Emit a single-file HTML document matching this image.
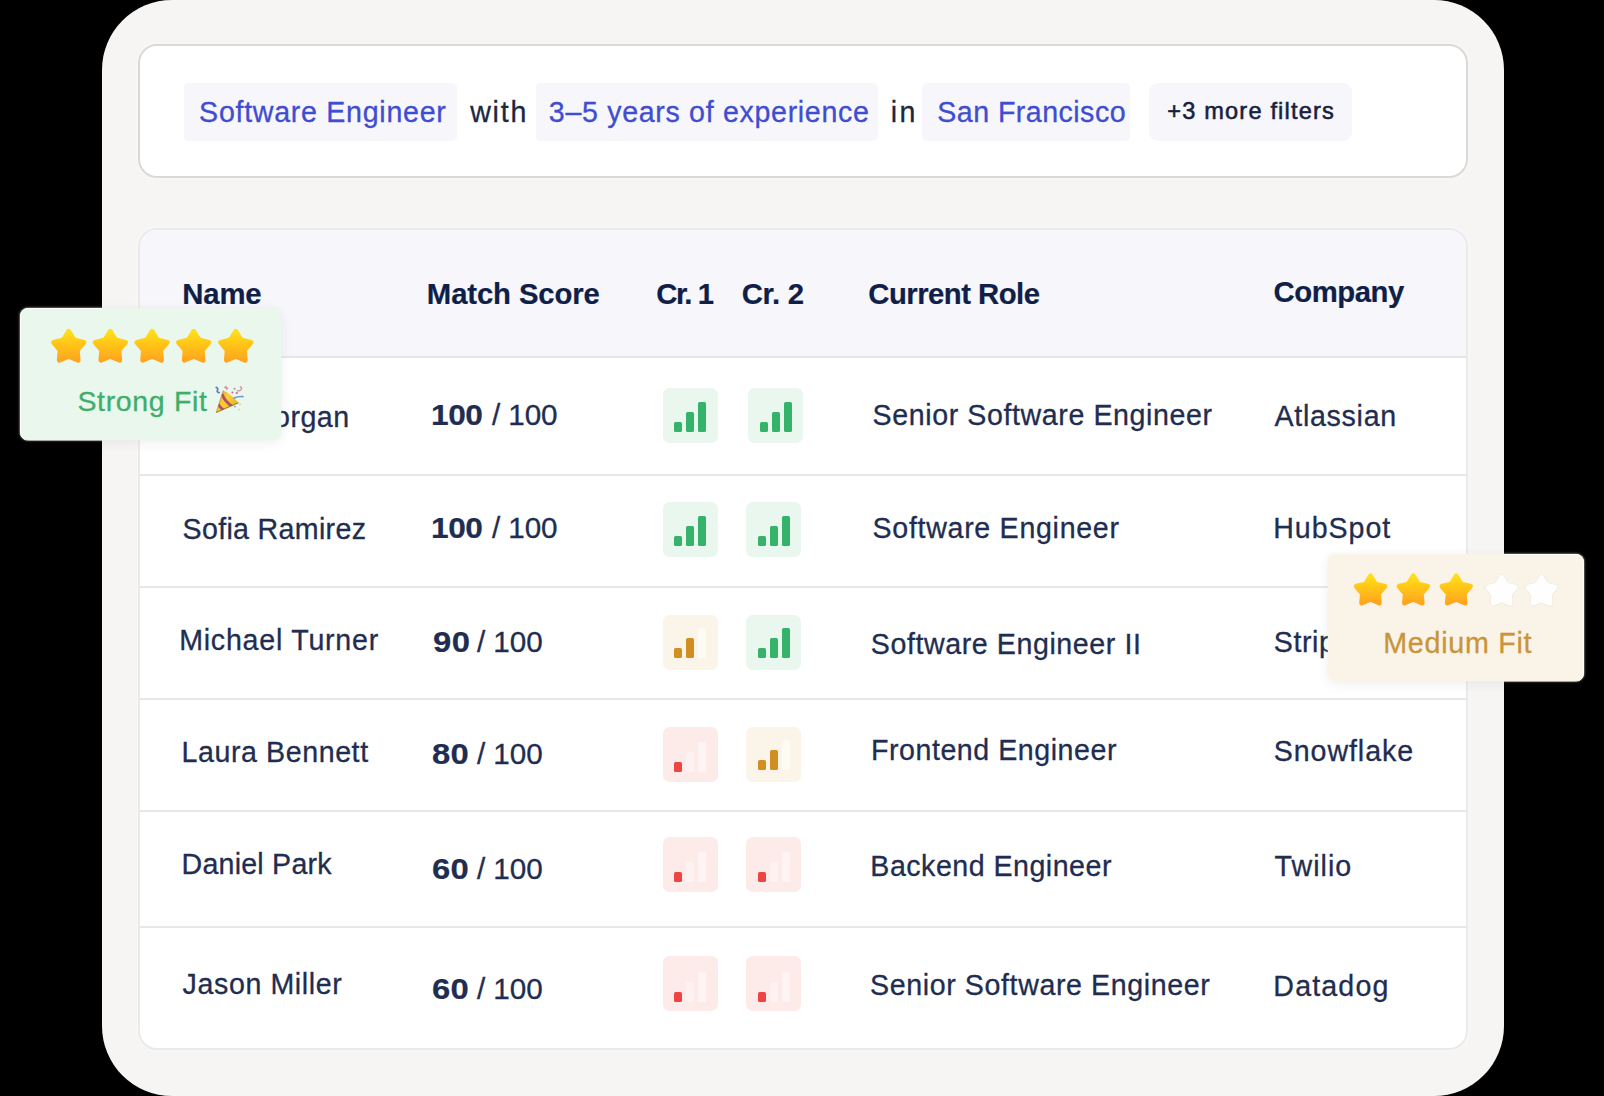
<!DOCTYPE html>
<html lang="en"><head><meta charset="utf-8"><title>Candidate match table</title>
<style>
*{box-sizing:border-box;margin:0;padding:0}
html,body{width:1604px;height:1096px;overflow:hidden;background:#000}
body{position:relative;font-family:'Liberation Sans', sans-serif}
.abs{position:absolute}
.panel{position:absolute;left:102px;top:0;width:1402px;height:1096px;border-radius:70px;background:#f6f5f3}
.fcard{position:absolute;left:138px;top:44px;width:1330px;height:134px;border-radius:19px;background:#fff;border:2px solid #dad9d8;box-shadow:0 0 5px rgba(255,255,255,.6)}
.tcard{position:absolute;left:138px;top:228px;width:1330px;height:822px;border-radius:19px;background:#fff;border:2px solid #eaeaeb;overflow:hidden;box-shadow:0 0 5px rgba(255,255,255,.6)}
.thead{position:absolute;left:0;top:0;width:100%;height:128px;background:#f6f6fb;border-bottom:2px solid #e6e6e8}
.rl{position:absolute;left:0;width:100%;height:2px;background:#e7e7e7}
.chip{position:absolute;top:83px;height:58px;border-radius:5px;background:#f6f6fb}
.t{position:absolute;white-space:pre;transform-origin:0 50%}
.ib{position:absolute;width:55.2px;height:55.2px;border-radius:6.5px}
.bar{position:absolute;width:8.1px;border-radius:1.6px}
.badge{position:absolute;border-radius:8px}
.rim{position:absolute;border-radius:8.5px;border:1.2px solid #fffefc}
</style></head><body>
<div class="panel"></div>
<div class="fcard"></div>
<div class="chip" style="left:184.2px;width:272.6px;border-radius:5px"></div>
<div class="chip" style="left:535.5px;width:342.4px;border-radius:5px"></div>
<div class="chip" style="left:922.1px;width:208.2px;border-radius:5px"></div>
<div class="chip" style="left:1148.7px;width:203.6px;border-radius:9px"></div>
<div class="tcard"><div class="thead"></div>
<div class="rl" style="top:244.0px"></div>
<div class="rl" style="top:356.0px"></div>
<div class="rl" style="top:467.8px"></div>
<div class="rl" style="top:580.0px"></div>
<div class="rl" style="top:696.0px"></div>
</div>
<div class="ib" style="left:662.5px;top:388.3px;background:#e9f7ee"></div><div class="bar" style="left:674.1px;top:422.0px;height:10px;background:#35b36a"></div><div class="bar" style="left:686.2px;top:412.0px;height:20px;background:#35b36a"></div><div class="bar" style="left:698.3px;top:402.0px;height:30px;background:#35b36a"></div>
<div class="ib" style="left:747.9px;top:388.3px;background:#e9f7ee"></div><div class="bar" style="left:759.5px;top:422.0px;height:10px;background:#35b36a"></div><div class="bar" style="left:771.6px;top:412.0px;height:20px;background:#35b36a"></div><div class="bar" style="left:783.7px;top:402.0px;height:30px;background:#35b36a"></div>
<div class="ib" style="left:662.5px;top:502.3px;background:#e9f7ee"></div><div class="bar" style="left:674.1px;top:535.8px;height:10px;background:#35b36a"></div><div class="bar" style="left:686.2px;top:525.8px;height:20px;background:#35b36a"></div><div class="bar" style="left:698.3px;top:515.8px;height:30px;background:#35b36a"></div>
<div class="ib" style="left:745.9px;top:502.3px;background:#e9f7ee"></div><div class="bar" style="left:757.5px;top:535.8px;height:10px;background:#35b36a"></div><div class="bar" style="left:769.6px;top:525.8px;height:20px;background:#35b36a"></div><div class="bar" style="left:781.7px;top:515.8px;height:30px;background:#35b36a"></div>
<div class="ib" style="left:662.5px;top:614.7px;background:#fbf4e9"></div><div class="bar" style="left:674.1px;top:648.0px;height:10px;background:#d18f22"></div><div class="bar" style="left:686.2px;top:638.0px;height:20px;background:#d18f22"></div><div class="bar" style="left:698.3px;top:628.0px;height:30px;background:#fefbf5"></div>
<div class="ib" style="left:745.9px;top:614.7px;background:#e9f7ee"></div><div class="bar" style="left:757.5px;top:648.0px;height:10px;background:#35b36a"></div><div class="bar" style="left:769.6px;top:638.0px;height:20px;background:#35b36a"></div><div class="bar" style="left:781.7px;top:628.0px;height:30px;background:#35b36a"></div>
<div class="ib" style="left:662.5px;top:726.8px;background:#fdebea"></div><div class="bar" style="left:674.1px;top:762.0px;height:10px;background:#ef4444"></div><div class="bar" style="left:686.2px;top:752.0px;height:20px;background:#fdf2f1"></div><div class="bar" style="left:698.3px;top:742.0px;height:30px;background:#fdf4f3"></div>
<div class="ib" style="left:745.9px;top:726.8px;background:#fbf4e9"></div><div class="bar" style="left:757.5px;top:760.0px;height:10px;background:#d18f22"></div><div class="bar" style="left:769.6px;top:750.0px;height:20px;background:#d18f22"></div><div class="bar" style="left:781.7px;top:740.0px;height:30px;background:#fefbf5"></div>
<div class="ib" style="left:662.5px;top:836.5px;background:#fdebea"></div><div class="bar" style="left:674.1px;top:872.0px;height:10px;background:#ef4444"></div><div class="bar" style="left:686.2px;top:862.0px;height:20px;background:#fdf2f1"></div><div class="bar" style="left:698.3px;top:852.0px;height:30px;background:#fdf4f3"></div>
<div class="ib" style="left:745.9px;top:836.5px;background:#fdebea"></div><div class="bar" style="left:757.5px;top:872.0px;height:10px;background:#ef4444"></div><div class="bar" style="left:769.6px;top:862.0px;height:20px;background:#fdf2f1"></div><div class="bar" style="left:781.7px;top:852.0px;height:30px;background:#fdf4f3"></div>
<div class="ib" style="left:662.5px;top:956.2px;background:#fdebea"></div><div class="bar" style="left:674.1px;top:991.8px;height:10px;background:#ef4444"></div><div class="bar" style="left:686.2px;top:981.8px;height:20px;background:#fdf2f1"></div><div class="bar" style="left:698.3px;top:971.8px;height:30px;background:#fdf4f3"></div>
<div class="ib" style="left:745.9px;top:956.2px;background:#fdebea"></div><div class="bar" style="left:757.5px;top:991.8px;height:10px;background:#ef4444"></div><div class="bar" style="left:769.6px;top:981.8px;height:20px;background:#fdf2f1"></div><div class="bar" style="left:781.7px;top:971.8px;height:30px;background:#fdf4f3"></div>
<span class="t" id="f1" style="left:199.10px;top:97.73px;font-size:28.6px;line-height:28.6px;font-weight:400;color:#3f4dd1;letter-spacing:0.717px;-webkit-text-stroke:0.3px #3f4dd1">Software Engineer</span>
<span class="t" id="f2" style="left:470.14px;top:97.73px;font-size:28.6px;line-height:28.6px;font-weight:400;color:#1c2742;letter-spacing:1.831px;-webkit-text-stroke:0.3px #1c2742">with</span>
<span class="t" id="f3" style="left:548.84px;top:97.73px;font-size:28.6px;line-height:28.6px;font-weight:400;color:#3f4dd1;letter-spacing:0.676px;-webkit-text-stroke:0.3px #3f4dd1">3–5 years of experience</span>
<span class="t" id="f4" style="left:890.74px;top:97.73px;font-size:28.6px;line-height:28.6px;font-weight:400;color:#1c2742;letter-spacing:2.488px;-webkit-text-stroke:0.3px #1c2742">in</span>
<span class="t" id="f5" style="left:937.29px;top:97.73px;font-size:28.6px;line-height:28.6px;font-weight:400;color:#3f4dd1;letter-spacing:0.458px;-webkit-text-stroke:0.3px #3f4dd1">San Francisco</span>
<span class="t" id="f6" style="left:1167.31px;top:99.56px;font-size:23.6px;line-height:23.6px;font-weight:400;color:#16213d;letter-spacing:1.167px;-webkit-text-stroke:0.55px #16213d">+3 more filters</span>
<span class="t" id="h1" style="left:182.21px;top:279.14px;font-size:29.3px;line-height:29.3px;font-weight:700;color:#0f1f47;letter-spacing:-0.138px;-webkit-text-stroke:0.2px #0f1f47">Name</span>
<span class="t" id="h2" style="left:426.86px;top:279.14px;font-size:29.3px;line-height:29.3px;font-weight:700;color:#0f1f47;letter-spacing:-0.125px;-webkit-text-stroke:0.2px #0f1f47">Match Score</span>
<span class="t" id="h3" style="left:656.36px;top:279.14px;font-size:29.3px;line-height:29.3px;font-weight:700;color:#0f1f47;letter-spacing:-1.476px;-webkit-text-stroke:0.2px #0f1f47">Cr. 1</span>
<span class="t" id="h4" style="left:741.75px;top:279.14px;font-size:29.3px;line-height:29.3px;font-weight:700;color:#0f1f47;letter-spacing:-0.331px;-webkit-text-stroke:0.2px #0f1f47">Cr. 2</span>
<span class="t" id="h5" style="left:868.36px;top:279.14px;font-size:29.3px;line-height:29.3px;font-weight:700;color:#0f1f47;letter-spacing:-0.528px;-webkit-text-stroke:0.2px #0f1f47">Current Role</span>
<span class="t" id="h6" style="left:1273.52px;top:277.14px;font-size:29.3px;line-height:29.3px;font-weight:700;color:#0f1f47;letter-spacing:-0.458px;-webkit-text-stroke:0.2px #0f1f47">Company</span>
<span class="t" id="n1" style="left:183.52px;top:403.23px;font-size:28.6px;line-height:28.6px;font-weight:400;color:#1f2e50;letter-spacing:0.511px;-webkit-text-stroke:0.3px #1f2e50">Alex Morgan</span>
<span class="t" id="n2" style="left:182.56px;top:515.43px;font-size:28.6px;line-height:28.6px;font-weight:400;color:#1f2e50;letter-spacing:0.323px;-webkit-text-stroke:0.3px #1f2e50">Sofia Ramirez</span>
<span class="t" id="n3" style="left:179.15px;top:625.73px;font-size:28.6px;line-height:28.6px;font-weight:400;color:#1f2e50;letter-spacing:0.764px;-webkit-text-stroke:0.3px #1f2e50">Michael Turner</span>
<span class="t" id="n4" style="left:181.57px;top:737.93px;font-size:28.6px;line-height:28.6px;font-weight:400;color:#1f2e50;letter-spacing:0.573px;-webkit-text-stroke:0.3px #1f2e50">Laura Bennett</span>
<span class="t" id="n5" style="left:181.57px;top:849.53px;font-size:28.6px;line-height:28.6px;font-weight:400;color:#1f2e50;letter-spacing:0.219px;-webkit-text-stroke:0.3px #1f2e50">Daniel Park</span>
<span class="t" id="n6" style="left:182.59px;top:969.73px;font-size:28.6px;line-height:28.6px;font-weight:400;color:#1f2e50;letter-spacing:0.604px;-webkit-text-stroke:0.3px #1f2e50">Jason Miller</span>
<span class="t" id="sb1" style="left:431.46px;top:401.06px;font-size:28.8px;line-height:28.8px;font-weight:700;color:#1f2e50;letter-spacing:-0.439px;-webkit-text-stroke:0.2px #1f2e50;transform:scaleX(1.1)">100</span>
<span class="t" id="sb2" style="left:431.46px;top:513.56px;font-size:28.8px;line-height:28.8px;font-weight:700;color:#1f2e50;letter-spacing:-0.439px;-webkit-text-stroke:0.2px #1f2e50;transform:scaleX(1.1)">100</span>
<span class="t" id="sb3" style="left:432.63px;top:627.56px;font-size:28.8px;line-height:28.8px;font-weight:700;color:#1f2e50;letter-spacing:0.341px;-webkit-text-stroke:0.2px #1f2e50;transform:scaleX(1.14)">90</span>
<span class="t" id="sb4" style="left:432.08px;top:739.76px;font-size:28.8px;line-height:28.8px;font-weight:700;color:#1f2e50;letter-spacing:0.121px;-webkit-text-stroke:0.2px #1f2e50;transform:scaleX(1.14)">80</span>
<span class="t" id="sb5" style="left:431.92px;top:855.06px;font-size:28.8px;line-height:28.8px;font-weight:700;color:#1f2e50;letter-spacing:0.295px;-webkit-text-stroke:0.2px #1f2e50;transform:scaleX(1.14)">60</span>
<span class="t" id="sb6" style="left:431.92px;top:974.96px;font-size:28.8px;line-height:28.8px;font-weight:700;color:#1f2e50;letter-spacing:0.295px;-webkit-text-stroke:0.2px #1f2e50;transform:scaleX(1.14)">60</span>
<span class="t" id="sr1" style="left:491.84px;top:401.06px;font-size:28.8px;line-height:28.8px;font-weight:400;color:#1f2e50;letter-spacing:-0.110px;-webkit-text-stroke:0.3px #1f2e50;transform:scaleX(1.03)">/ 100</span>
<span class="t" id="sr2" style="left:491.84px;top:513.56px;font-size:28.8px;line-height:28.8px;font-weight:400;color:#1f2e50;letter-spacing:-0.110px;-webkit-text-stroke:0.3px #1f2e50;transform:scaleX(1.03)">/ 100</span>
<span class="t" id="sr3" style="left:476.84px;top:627.56px;font-size:28.8px;line-height:28.8px;font-weight:400;color:#1f2e50;letter-spacing:-0.082px;-webkit-text-stroke:0.3px #1f2e50;transform:scaleX(1.03)">/ 100</span>
<span class="t" id="sr4" style="left:476.84px;top:739.76px;font-size:28.8px;line-height:28.8px;font-weight:400;color:#1f2e50;letter-spacing:-0.082px;-webkit-text-stroke:0.3px #1f2e50;transform:scaleX(1.03)">/ 100</span>
<span class="t" id="sr5" style="left:476.84px;top:855.06px;font-size:28.8px;line-height:28.8px;font-weight:400;color:#1f2e50;letter-spacing:-0.082px;-webkit-text-stroke:0.3px #1f2e50;transform:scaleX(1.03)">/ 100</span>
<span class="t" id="sr6" style="left:476.84px;top:974.96px;font-size:28.8px;line-height:28.8px;font-weight:400;color:#1f2e50;letter-spacing:-0.082px;-webkit-text-stroke:0.3px #1f2e50;transform:scaleX(1.03)">/ 100</span>
<span class="t" id="r1" style="left:872.56px;top:401.23px;font-size:28.6px;line-height:28.6px;font-weight:400;color:#1f2e50;letter-spacing:0.594px;-webkit-text-stroke:0.3px #1f2e50">Senior Software Engineer</span>
<span class="t" id="r2" style="left:872.56px;top:513.73px;font-size:28.6px;line-height:28.6px;font-weight:400;color:#1f2e50;letter-spacing:0.698px;-webkit-text-stroke:0.3px #1f2e50">Software Engineer</span>
<span class="t" id="r3" style="left:870.80px;top:629.53px;font-size:28.6px;line-height:28.6px;font-weight:400;color:#1f2e50;letter-spacing:0.579px;-webkit-text-stroke:0.3px #1f2e50">Software Engineer II</span>
<span class="t" id="r4" style="left:871.01px;top:735.73px;font-size:28.6px;line-height:28.6px;font-weight:400;color:#1f2e50;letter-spacing:0.536px;-webkit-text-stroke:0.3px #1f2e50">Frontend Engineer</span>
<span class="t" id="r5" style="left:870.37px;top:851.53px;font-size:28.6px;line-height:28.6px;font-weight:400;color:#1f2e50;letter-spacing:0.492px;-webkit-text-stroke:0.3px #1f2e50">Backend Engineer</span>
<span class="t" id="r6" style="left:870.02px;top:971.23px;font-size:28.6px;line-height:28.6px;font-weight:400;color:#1f2e50;letter-spacing:0.605px;-webkit-text-stroke:0.3px #1f2e50">Senior Software Engineer</span>
<span class="t" id="c1" style="left:1274.51px;top:401.73px;font-size:28.6px;line-height:28.6px;font-weight:400;color:#1f2e50;letter-spacing:0.703px;-webkit-text-stroke:0.3px #1f2e50">Atlassian</span>
<span class="t" id="c2" style="left:1273.15px;top:513.63px;font-size:28.6px;line-height:28.6px;font-weight:400;color:#1f2e50;letter-spacing:0.980px;-webkit-text-stroke:0.3px #1f2e50">HubSpot</span>
<span class="t" id="c3" style="left:1273.74px;top:627.83px;font-size:28.6px;line-height:28.6px;font-weight:400;color:#1f2e50;letter-spacing:0.603px;-webkit-text-stroke:0.3px #1f2e50">Stripe</span>
<span class="t" id="c4" style="left:1273.74px;top:737.43px;font-size:28.6px;line-height:28.6px;font-weight:400;color:#1f2e50;letter-spacing:0.934px;-webkit-text-stroke:0.3px #1f2e50">Snowflake</span>
<span class="t" id="c5" style="left:1274.52px;top:851.73px;font-size:28.6px;line-height:28.6px;font-weight:400;color:#1f2e50;letter-spacing:1.036px;-webkit-text-stroke:0.3px #1f2e50">Twilio</span>
<span class="t" id="c6" style="left:1273.37px;top:971.53px;font-size:28.6px;line-height:28.6px;font-weight:400;color:#1f2e50;letter-spacing:1.151px;-webkit-text-stroke:0.3px #1f2e50">Datadog</span>
<div class="badge" style="left:20.4px;top:308.3px;width:260.2px;height:131.4px;background:#e9f7ec;box-shadow:0 0 2.5px rgba(233,247,236,.95),0 3px 12px rgba(60,50,70,.075)"></div>
<div class="rim" style="left:19.6px;top:307.5px;width:261.8px;height:133px;clip-path:inset(0 179.4px 0 0)"></div>
<svg class="abs" style="left:40px;top:320px" width="230" height="52" viewBox="0 0 230 52"><defs><linearGradient id="sg1" x1="0" y1="0" x2="0" y2="1"><stop offset="0" stop-color="#ffdf1c"/><stop offset="0.45" stop-color="#ffc517"/><stop offset="1" stop-color="#ffa51f"/></linearGradient></defs><path d="M28.70 11.40 L33.99 20.02 L43.82 22.39 L37.26 30.08 L38.05 40.16 L28.70 36.30 L19.35 40.16 L20.14 30.08 L13.58 22.39 L23.41 20.02Z" fill="url(#sg1)" stroke="url(#sg1)" stroke-width="5" stroke-linejoin="round"/><path d="M70.30 11.40 L75.59 20.02 L85.42 22.39 L78.86 30.08 L79.65 40.16 L70.30 36.30 L60.95 40.16 L61.74 30.08 L55.18 22.39 L65.01 20.02Z" fill="url(#sg1)" stroke="url(#sg1)" stroke-width="5" stroke-linejoin="round"/><path d="M112.10 11.40 L117.39 20.02 L127.22 22.39 L120.66 30.08 L121.45 40.16 L112.10 36.30 L102.75 40.16 L103.54 30.08 L96.98 22.39 L106.81 20.02Z" fill="url(#sg1)" stroke="url(#sg1)" stroke-width="5" stroke-linejoin="round"/><path d="M153.70 11.40 L158.99 20.02 L168.82 22.39 L162.26 30.08 L163.05 40.16 L153.70 36.30 L144.35 40.16 L145.14 30.08 L138.58 22.39 L148.41 20.02Z" fill="url(#sg1)" stroke="url(#sg1)" stroke-width="5" stroke-linejoin="round"/><path d="M195.80 11.40 L201.09 20.02 L210.92 22.39 L204.36 30.08 L205.15 40.16 L195.80 36.30 L186.45 40.16 L187.24 30.08 L180.68 22.39 L190.51 20.02Z" fill="url(#sg1)" stroke="url(#sg1)" stroke-width="5" stroke-linejoin="round"/></svg>
<div class="badge" style="left:1327.6px;top:554.3px;width:256px;height:126.4px;background:#faf3e8;box-shadow:0 0 2.5px rgba(250,243,232,.95),0 3px 12px rgba(60,50,70,.075)"></div>
<div class="rim" style="left:1326.8px;top:553.5px;width:257.6px;height:128px;clip-path:inset(0 0 0 177.2px)"></div>
<svg class="abs" style="left:1340px;top:566px" width="230" height="52" viewBox="0 0 230 52"><defs><linearGradient id="sg2" x1="0" y1="0" x2="0" y2="1"><stop offset="0" stop-color="#ffdf1c"/><stop offset="0.45" stop-color="#ffc517"/><stop offset="1" stop-color="#ffa51f"/></linearGradient></defs><path d="M30.50 10.00 L35.44 18.10 L44.67 20.30 L38.49 27.50 L39.26 36.95 L30.50 33.30 L21.74 36.95 L22.51 27.50 L16.33 20.30 L25.56 18.10Z" fill="url(#sg2)" stroke="url(#sg2)" stroke-width="5" stroke-linejoin="round"/><path d="M73.30 10.00 L78.24 18.10 L87.47 20.30 L81.29 27.50 L82.06 36.95 L73.30 33.30 L64.54 36.95 L65.31 27.50 L59.13 20.30 L68.36 18.10Z" fill="url(#sg2)" stroke="url(#sg2)" stroke-width="5" stroke-linejoin="round"/><path d="M116.20 10.00 L121.14 18.10 L130.37 20.30 L124.19 27.50 L124.96 36.95 L116.20 33.30 L107.44 36.95 L108.21 27.50 L102.03 20.30 L111.26 18.10Z" fill="url(#sg2)" stroke="url(#sg2)" stroke-width="5" stroke-linejoin="round"/><path d="M161.60 11.40 L166.36 19.15 L175.20 21.28 L169.30 28.20 L170.01 37.27 L161.60 33.80 L153.19 37.27 L153.90 28.20 L148.00 21.28 L156.84 19.15Z" fill="none" stroke="#eee7db" stroke-width="6.2" stroke-linejoin="round"/><path d="M161.60 11.40 L166.36 19.15 L175.20 21.28 L169.30 28.20 L170.01 37.27 L161.60 33.80 L153.19 37.27 L153.90 28.20 L148.00 21.28 L156.84 19.15Z" fill="#fffefe" stroke="#fffefe" stroke-width="5" stroke-linejoin="round"/><path d="M201.50 11.40 L206.26 19.15 L215.10 21.28 L209.20 28.20 L209.91 37.27 L201.50 33.80 L193.09 37.27 L193.80 28.20 L187.90 21.28 L196.74 19.15Z" fill="none" stroke="#eee7db" stroke-width="6.2" stroke-linejoin="round"/><path d="M201.50 11.40 L206.26 19.15 L215.10 21.28 L209.20 28.20 L209.91 37.27 L201.50 33.80 L193.09 37.27 L193.80 28.20 L187.90 21.28 L196.74 19.15Z" fill="#fffefe" stroke="#fffefe" stroke-width="5" stroke-linejoin="round"/></svg>
<span class="t" id="b1" style="left:77.46px;top:387.32px;font-size:28.5px;line-height:28.5px;font-weight:400;color:#3fae6b;letter-spacing:0.652px;-webkit-text-stroke:0.3px #3fae6b">Strong Fit</span>
<span class="t" id="b2" style="left:1383.21px;top:629.05px;font-size:28.7px;line-height:28.7px;font-weight:400;color:#c8953a;letter-spacing:0.717px;-webkit-text-stroke:0.3px #c8953a">Medium Fit</span>
<svg class="abs" style="left:212.6px;top:385.2px" width="32" height="30" viewBox="0 0 32 30">
<defs><linearGradient id="pg" x1="0" y1="0" x2="1" y2="0.6"><stop offset="0" stop-color="#ec9430"/><stop offset="0.5" stop-color="#ffd038"/><stop offset="1" stop-color="#e6b31c"/></linearGradient>
<clipPath id="pc"><path d="M3.2 27.6 L10.2 5.6 Q18 9 25.4 17.8 Z"/></clipPath></defs>
<path d="M3.2 27.6 L10.2 5.6 Q18 9 25.4 17.8 Z" fill="url(#pg)"/>
<g clip-path="url(#pc)" stroke="#a0456f" stroke-width="2.8" fill="none" opacity="0.9"><path d="M9 9 Q12 17 20 22"/><path d="M5 19 Q8 24 12 26"/></g>
<path d="M3.2 27.6 L25.4 17.8" stroke="#8f621a" stroke-width="1.1" opacity="0.75"/><path d="M3.2 27.6 L10.2 5.6" stroke="#b8702a" stroke-width="1" opacity="0.55"/>
<path d="M3.2 2.4 Q5.6 3.2 4.4 5.2 Q3.4 7.2 6.2 7.6" stroke="#5b7fc4" stroke-width="1.7" fill="none" stroke-linecap="round"/>
<path d="M21 13 Q25.5 11.2 30 11.6" stroke="#6e93d6" stroke-width="1.6" fill="none" stroke-linecap="round"/>
<path d="M11.6 2.4 l3 .8 M13 1.4 l.8 3" stroke="#e88aa8" stroke-width="1.4" stroke-linecap="round"/>
<path d="M27.4 1.8 Q29.4 2.6 28 4.6 Q26.8 6.2 24.4 5.8" stroke="#d98aa5" stroke-width="1.4" fill="none" stroke-linecap="round"/>
<circle cx="21.6" cy="3.8" r="1" fill="#cf7d9c"/><circle cx="19.4" cy="7.6" r="1" fill="#c46a8d"/><circle cx="23.8" cy="8" r="1.1" fill="#c26b8e"/>
<circle cx="22" cy="21.6" r=".9" fill="#7d94c9"/><circle cx="27" cy="19.4" r=".9" fill="#e7c86b"/><circle cx="26" cy="24.6" r=".8" fill="#e5b1c2"/>
</svg>
</body></html>
